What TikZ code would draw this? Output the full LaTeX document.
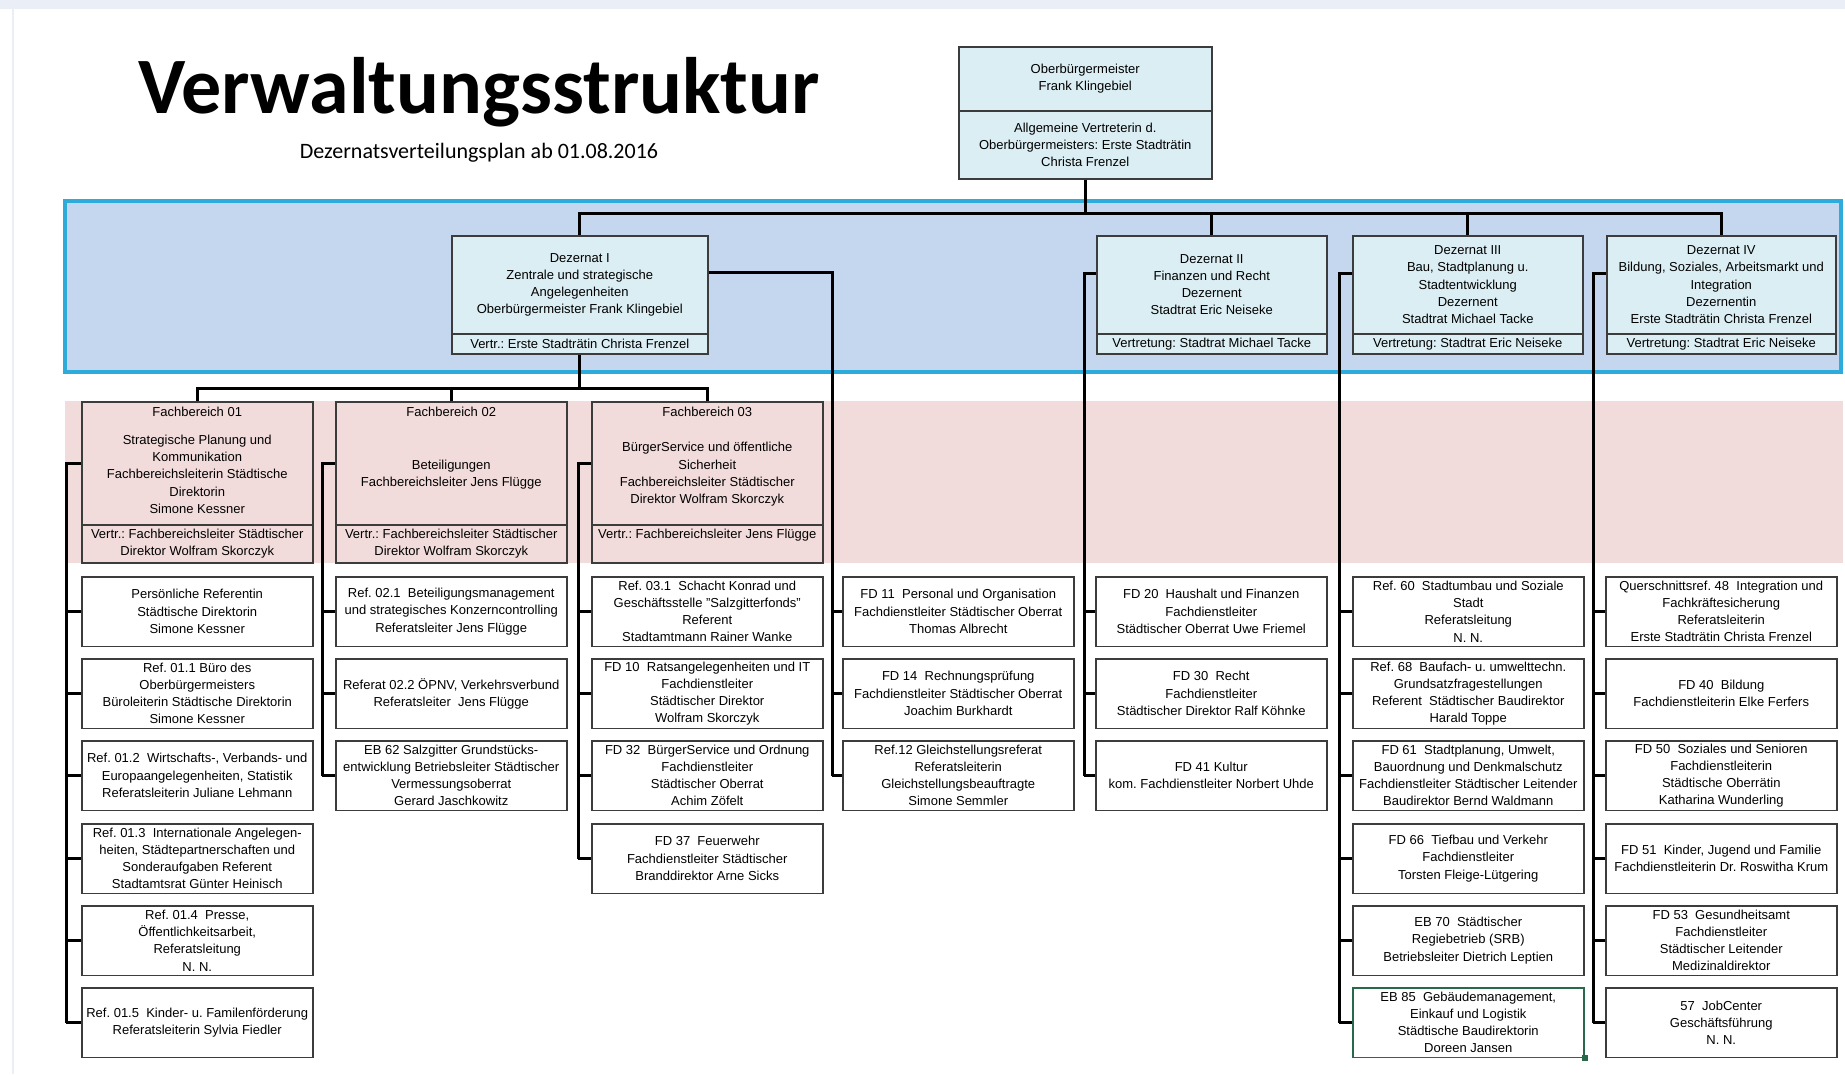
\documentclass[tikz,border=0pt]{standalone}
\usepackage{fontspec}
\setmainfont{Liberation Sans}
\newfontfamily\titlefont{Carlito}
\usepackage{xcolor}
\definecolor{bandblue}{RGB}{197,215,239}
\definecolor{bandcyan}{RGB}{45,172,220}
\definecolor{bandpink}{RGB}{242,220,219}
\definecolor{headblue}{RGB}{219,238,244}
\definecolor{boxgray}{RGB}{60,60,60}
\definecolor{boxgreen}{RGB}{40,105,75}
\definecolor{pagetint}{RGB}{234,239,247}
\frenchspacing

\tikzset{
  unit/.style={draw=boxgray, line width=1.5pt, fill=white, anchor=north west,
    minimum width=231pt, minimum height=69.5pt, inner sep=0pt, align=center,
    font=\fontsize{13}{17.2}\selectfont},
  head/.style={unit, fill=headblue},
  fbhead/.style={unit, fill=bandpink},
  lbl/.style={inner sep=0pt, align=center, font=\fontsize{13}{17.2}\selectfont},
  conn/.style={line width=3pt},
}

\begin{document}
\begin{tikzpicture}[x=1pt,y=-1pt]
    \useasboundingbox (0,0) rectangle (1845,1074);
    \fill[white] (0,0) rectangle (1845,1074);
    \fill[pagetint] (0,0) rectangle (1845,9);
    \draw[pagetint, line width=2pt] (13,9) -- (13,1074);

    % Title
    \node[anchor=base, font=\titlefont\bfseries\fontsize{80}{90}\selectfont] (title) at (479,113) {Verwaltungsstruktur};
    \node[anchor=base, font=\titlefont\fontsize{22}{25}\selectfont] (subtitle) at (479,158) {Dezernatsverteilungsplan ab 01.08.2016};

    % Bands
    \draw[bandcyan, fill=bandblue, line width=3.5pt] (65,201) rectangle (1841,372);
    \fill[bandpink] (65,401) rectangle (1843,563);

    % Oberbuergermeister
    \node[head, minimum width=253pt, minimum height=64pt] (ob) at (958,46) {Oberbürgermeister\\Frank Klingebiel};
    \node[head, minimum width=253pt, minimum height=68pt] (obv) at (958,110) {Allgemeine Vertreterin d.\\Oberbürgermeisters: Erste Stadträtin\\Christa Frenzel};

    % Dezernate
    \node[head, minimum width=256pt, minimum height=98pt] (dz1) at (451,235) {Dezernat I\\Zentrale und strategische\\Angelegenheiten\\Oberbürgermeister Frank Klingebiel};
    \node[head, minimum width=256pt, minimum height=20pt] (dz1v) at (451,333) {Vertr.: Erste Stadträtin Christa Frenzel};
    \node[head, minimum width=230pt, minimum height=98pt] (dz2) at (1096,235) {Dezernat II\\Finanzen und Recht\\Dezernent\\Stadtrat Eric Neiseke};
    \node[head, minimum width=230pt, minimum height=20pt] (dz2v) at (1096,333) {Vertretung: Stadtrat Michael Tacke};
    \node[head, minimum width=230pt, minimum height=98pt] (dz3) at (1352,235) {Dezernat III\\Bau, Stadtplanung u.\\Stadtentwicklung\\Dezernent\\Stadtrat Michael Tacke};
    \node[head, minimum width=230pt, minimum height=20pt] (dz3v) at (1352,333) {Vertretung: Stadtrat Eric Neiseke};
    \node[head, minimum width=229pt, minimum height=98pt] (dz4) at (1606,235) {Dezernat IV\\Bildung, Soziales, Arbeitsmarkt und\\Integration\\Dezernentin\\Erste Stadträtin Christa Frenzel};
    \node[head, minimum width=229pt, minimum height=20pt] (dz4v) at (1606,333) {Vertretung: Stadtrat Eric Neiseke};

    % Fachbereiche
    \node[fbhead, minimum height=123pt] (fb1) at (81,401) {};
    \node[fbhead, minimum height=38pt] (fb1v) at (81,524) {Vertr.: Fachbereichsleiter Städtischer\\Direktor Wolfram Skorczyk};
    \node[fbhead, minimum height=123pt] (fb2) at (335,401) {};
    \node[fbhead, minimum height=38pt] (fb2v) at (335,524) {Vertr.: Fachbereichsleiter Städtischer\\Direktor Wolfram Skorczyk};
    \node[fbhead, minimum height=123pt] (fb3) at (591,401) {};
    \node[fbhead, minimum height=38pt] (fb3v) at (591,524) {Vertr.: Fachbereichsleiter Jens Flügge\\\phantom{Dy}};
    \node[lbl, anchor=base] (fb1t) at ([yshift=-15.5pt]fb1.north) {Fachbereich 01};
    \node[lbl, anchor=base] (fb2t) at ([yshift=-15.5pt]fb2.north) {Fachbereich 02};
    \node[lbl, anchor=base] (fb3t) at ([yshift=-15.5pt]fb3.north) {Fachbereich 03};
    \node[lbl] (fb1b) at ([yshift=-11pt]fb1.center) {Strategische Planung und\\Kommunikation\\Fachbereichsleiterin Städtische\\Direktorin\\Simone Kessner};
    \node[lbl] (fb2b) at ([yshift=-11pt]fb2.center) {Beteiligungen\\Fachbereichsleiter Jens Flügge};
    \node[lbl] (fb3b) at ([yshift=-11pt]fb3.center) {BürgerService und öffentliche\\Sicherheit\\Fachbereichsleiter Städtischer\\Direktor Wolfram Skorczyk};

    % Fachbereich 01
    \node[unit] (ref01p) at (81,576) {Persönliche Referentin\\Städtische Direktorin\\Simone Kessner};
    \node[unit] (ref011) at (81,658) {Ref. 01.1 Büro des\\Oberbürgermeisters\\Büroleiterin Städtische Direktorin\\Simone Kessner};
    \node[unit] (ref012) at (81,740) {Ref. 01.2\ \ Wirtschafts-, Verbands- und\\Europaangelegenheiten, Statistik\\Referatsleiterin Juliane Lehmann};
    \node[unit] (ref013) at (81,823) {Ref. 01.3\ \ Internationale Angelegen-\\heiten, Städtepartnerschaften und\\Sonderaufgaben Referent\\Stadtamtsrat Günter Heinisch};
    \node[unit] (ref014) at (81,905) {Ref. 01.4\ \ Presse,\\Öffentlichkeitsarbeit,\\Referatsleitung\\N. N.};
    \node[unit] (ref015) at (81,987) {Ref. 01.5\ \ Kinder- u. Familenförderung\\Referatsleiterin Sylvia Fiedler};

    % Fachbereich 02
    \node[unit] (ref021) at (335,576) {Ref. 02.1\ \ Beteiligungsmanagement\\und strategisches Konzerncontrolling\\Referatsleiter Jens Flügge};
    \node[unit] (ref022) at (335,658) {Referat 02.2 ÖPNV, Verkehrsverbund\\Referatsleiter\ \ Jens Flügge};
    \node[unit] (eb62) at (335,740) {EB 62 Salzgitter Grundstücks-\\entwicklung Betriebsleiter Städtischer\\Vermessungsoberrat\\Gerard Jaschkowitz};

    % Fachbereich 03
    \node[unit] (ref031) at (591,576) {Ref. 03.1\ \ Schacht Konrad und\\Geschäftsstelle "Salzgitterfonds"\\Referent\\Stadtamtmann Rainer Wanke};
    \node[unit] (fd10) at (591,658) {FD 10\ \ Ratsangelegenheiten und IT\\Fachdienstleiter\\Städtischer Direktor\\Wolfram Skorczyk};
    \node[unit] (fd32) at (591,740) {FD 32\ \ BürgerService und Ordnung\\Fachdienstleiter\\Städtischer Oberrat\\Achim Zöfelt};
    \node[unit] (fd37) at (591,823) {FD 37\ \ Feuerwehr\\Fachdienstleiter Städtischer\\Branddirektor Arne Sicks};

    % Dezernat I direkt
    \node[unit] (fd11) at (842,576) {FD 11\ \ Personal und Organisation\\Fachdienstleiter Städtischer Oberrat\\Thomas Albrecht};
    \node[unit] (fd14) at (842,658) {FD 14\ \ Rechnungsprüfung\\Fachdienstleiter Städtischer Oberrat\\Joachim Burkhardt};
    \node[unit] (ref12) at (842,740) {Ref.12 Gleichstellungsreferat\\Referatsleiterin\\Gleichstellungsbeauftragte\\Simone Semmler};

    % Dezernat II
    \node[unit] (fd20) at (1095,576) {FD 20\ \ Haushalt und Finanzen\\Fachdienstleiter\\Städtischer Oberrat Uwe Friemel};
    \node[unit] (fd30) at (1095,658) {FD 30\ \ Recht\\Fachdienstleiter\\Städtischer Direktor Ralf Köhnke};
    \node[unit] (fd41) at (1095,740) {FD 41 Kultur\\kom. Fachdienstleiter Norbert Uhde};

    % Dezernat III
    \node[unit] (ref60) at (1352,576) {Ref. 60\ \ Stadtumbau und Soziale\\Stadt\\Referatsleitung\\N. N.};
    \node[unit] (ref68) at (1352,658) {Ref. 68\ \ Baufach- u. umwelttechn.\\Grundsatzfragestellungen\\Referent\ \ Städtischer Baudirektor\\Harald Toppe};
    \node[unit] (fd61) at (1352,740) {FD 61\ \ Stadtplanung, Umwelt,\\Bauordnung und Denkmalschutz\\Fachdienstleiter Städtischer Leitender\\Baudirektor Bernd Waldmann};
    \node[unit] (fd66) at (1352,823) {FD 66\ \ Tiefbau und Verkehr\\Fachdienstleiter\\Torsten Fleige-Lütgering};
    \node[unit] (eb70) at (1352,905) {EB 70\ \ Städtischer\\Regiebetrieb (SRB)\\Betriebsleiter Dietrich Leptien};
    \node[unit, draw=boxgreen] (eb85) at (1352,987) {EB 85\ \ Gebäudemanagement,\\Einkauf und Logistik\\Städtische Baudirektorin\\Doreen Jansen};
    \fill[boxgreen] (eb85.south east) +(-3,-3) rectangle +(3,3);

    % Dezernat IV
    \node[unit] (ref48) at (1605,576) {Querschnittsref. 48\ \ Integration und\\Fachkräftesicherung\\Referatsleiterin\\Erste Stadträtin Christa Frenzel};
    \node[unit] (fd40) at (1605,658) {FD 40\ \ Bildung\\Fachdienstleiterin Elke Ferfers};
    \node[unit] (fd50) at (1605,740) {FD 50\ \ Soziales und Senioren\\Fachdienstleiterin\\Städtische Oberrätin\\Katharina Wunderling};
    \node[unit] (fd51) at (1605,823) {FD 51\ \ Kinder, Jugend und Familie\\Fachdienstleiterin Dr. Roswitha Krum};
    \node[unit] (fd53) at (1605,905) {FD 53\ \ Gesundheitsamt\\Fachdienstleiter\\Städtischer Leitender\\Medizinaldirektor};
    \node[unit] (jc57) at (1605,987) {57\ \ JobCenter\\Geschäftsführung\\N. N.};

    % Connectors: Oberbuergermeister to Dezernate
    \coordinate (bus) at (0,213);
    \draw[conn] (obv.south) -- (obv.south |- bus);
    \draw[conn] (dz1.north) |- (dz4.north |- bus) -- (dz4.north);
    \draw[conn] (dz2.north) -- (dz2.north |- bus);
    \draw[conn] (dz3.north) -- (dz3.north |- bus);

    % Dezernat I to Fachbereiche
    \coordinate (fbbus) at (0,388);
    \draw[conn] (dz1v.south) -- (dz1v.south |- fbbus);
    \draw[conn] (fb1.north) |- (fb3.north |- fbbus) -- (fb3.north);
    \draw[conn] (fb2.north) -- (fb2.north |- fbbus);

    % Spines
    \coordinate (sp1) at (66,0);
    \coordinate (sp2) at (322,0);
    \coordinate (sp3) at (578,0);
    \coordinate (sp4) at (832,0);
    \coordinate (sp5) at (1084,0);
    \coordinate (sp6) at (1339,0);
    \coordinate (sp7) at (1593,0);
    \foreach \fb/\s/\l in {fb1/sp1/ref015, fb2/sp2/eb62, fb3/sp3/fd37}
        \draw[conn] (\fb.west) -| (\s |- \l.west);
    \draw[conn] ([yshift=-37pt]dz1.north east) -| (sp4 |- ref12.west);
    \draw[conn] ([yshift=-38pt]dz2.north west) -| (sp5 |- fd41.west);
    \draw[conn] ([yshift=-38pt]dz3.north west) -| (sp6 |- eb85.west);
    \draw[conn] ([yshift=-38pt]dz4.north west) -| (sp7 |- jc57.west);

    % Branches
    \foreach \s/\u in {sp1/ref01p, sp1/ref011, sp1/ref012, sp1/ref013, sp1/ref014, sp1/ref015,
        sp2/ref021, sp2/ref022, sp2/eb62,
        sp3/ref031, sp3/fd10, sp3/fd32, sp3/fd37,
        sp4/fd11, sp4/fd14, sp4/ref12,
        sp5/fd20, sp5/fd30, sp5/fd41,
        sp6/ref60, sp6/ref68, sp6/fd61, sp6/fd66, sp6/eb70, sp6/eb85,
        sp7/ref48, sp7/fd40, sp7/fd50, sp7/fd51, sp7/fd53, sp7/jc57}
        \draw[conn] (\s |- \u.west) -- (\u.west);
\end{tikzpicture}
\end{document}
